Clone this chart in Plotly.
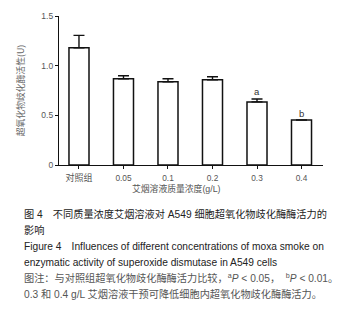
import plotly.graph_objects as go

categories = ["对照组", "0.05", "0.1", "0.2", "0.3", "0.4"]
sod_activity = [1.18, 0.868, 0.838, 0.858, 0.635, 0.453]
sod_error = [0.125, 0.03, 0.03, 0.03, 0.03, 0.0]
significance = ["", "", "", "", "a", "b"]
y_ticks = [0, 0.5, 1.0, 1.5]
y_ticktext = ["0", "0.5", "1.0", "1.5"]
x_title = "艾烟溶液质量浓度(g/L)"
y_title = "超氧化物歧化酶活性(U)"
caption_lines = [
    "图 4　不同质量浓度艾烟溶液对 A549 细胞超氧化物歧化酶酶活力的",
    "影响",
    "Figure 4　Influences of different concentrations of moxa smoke on",
    "enzymatic activity of superoxide dismutase in A549 cells",
    "图注：与对照组超氧化物歧化酶酶活力比较，<sup>a</sup><i>P</i> &lt; 0.05，  <sup>b</sup><i>P</i> &lt; 0.01。",
    "0.3 和 0.4 g/L 艾烟溶液干预可降低细胞内超氧化物歧化酶酶活力。",
]
caption_colors = ["#222", "#222", "#222", "#222", "#555", "#555"]
caption_y = [214, 230, 246, 262, 278, 294]

x_idx = list(range(len(categories)))

# the page renders with an 8px body offset; compensate in the margins
W, H = 352, 314
OFF = 8
L, R, T, B = 59 - OFF, 37, 16 - OFF, 157
pw, ph = W - L - R, H - T - B

def px_x(p):
    return (p - OFF - L) / pw

def px_y(p):
    return (H - B - (p - OFF)) / ph

tick_text = [f'<span style="font-size:9px">{c}</span>' if not c[0].isdigit() else c for c in categories]

fig = go.Figure()
fig.add_trace(go.Bar(
    x=x_idx, y=sod_activity, width=0.45,
    marker=dict(color="white", line=dict(color="#111", width=1.5)),
    error_y=dict(type="data", array=sod_error, arrayminus=[0] * len(sod_error),
                 symmetric=False, color="#111", thickness=1.4, width=5.5),
    showlegend=False, hoverinfo="skip",
))

annotations = []
for i, s in enumerate(significance):
    if s:
        annotations.append(dict(x=i, y=sod_activity[i] + sod_error[i], xref="x", yref="y",
                                text=s, showarrow=False, xanchor="center", yanchor="middle", yshift=7,
                                font=dict(family="Liberation Sans", size=9.5, color="#333")))

annotations.append(dict(x=px_x(176.3), y=px_y(188), xref="paper", yref="paper",
                        text=x_title, showarrow=False, xanchor="center", yanchor="middle",
                        font=dict(family="Liberation Sans, Noto Sans CJK SC", size=8.8, color="#555")))

for text, yp, col in zip(caption_lines, caption_y, caption_colors):
    annotations.append(dict(x=px_x(22), y=px_y(yp), xref="paper", yref="paper",
                            text=text, showarrow=False, xanchor="left", yanchor="middle",
                            font=dict(family="Liberation Sans, Noto Sans CJK SC", size=10.2, color=col)))

fig.update_layout(
    width=W, height=H,
    margin=dict(l=L, r=R, t=T, b=B, pad=0, autoexpand=False),
    paper_bgcolor="white", plot_bgcolor="white",
    xaxis=dict(range=[-0.449, 5.483], tickvals=x_idx, ticktext=tick_text,
               showline=True, linecolor="#111", linewidth=1.3, ticks="outside",
               ticklen=3, tickwidth=1, tickcolor="#111", showgrid=False, zeroline=False,
               automargin=False, fixedrange=True, ticklabelstandoff=2,
               tickfont=dict(family="Liberation Sans, Noto Sans CJK SC", size=8.3, color="#555")),
    yaxis=dict(range=[0, 1.5], tickvals=y_ticks, ticktext=y_ticktext,
               showline=True, linecolor="#111", linewidth=1.3, ticks="outside",
               ticklen=3, tickwidth=1, tickcolor="#111", showgrid=False, zeroline=False,
               automargin=False, fixedrange=True,
               title=dict(text=y_title,
                          font=dict(family="Noto Sans CJK SC, Liberation Sans", size=8.8, color="#666")),
               tickfont=dict(family="Liberation Sans", size=8.5, color="#555")),
    annotations=annotations,
)

fig.write_html("out.html")
